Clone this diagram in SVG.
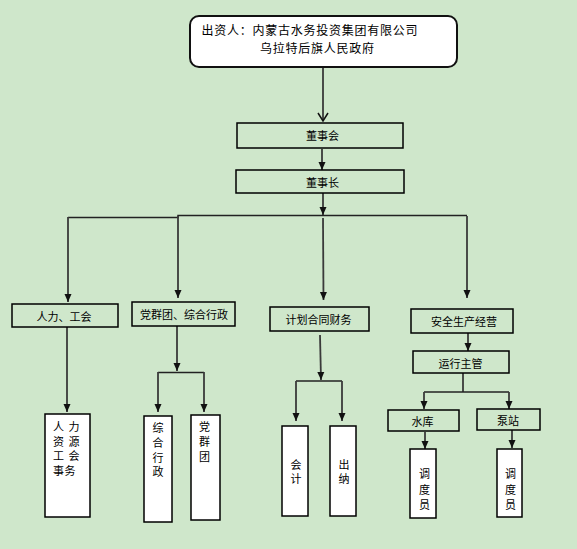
<svg xmlns="http://www.w3.org/2000/svg" width="577" height="549" viewBox="0 0 577 549">
<defs>
<style>
.bg{fill:#cfe7cb}
.box{fill:#ffffff;stroke:#000;stroke-width:1.5}
.hbox{fill:none;stroke:#000;stroke-width:1.5}
.t{font-family:"Noto Sans CJK SC","Noto Sans",sans-serif;font-size:11px;fill:#000;text-anchor:middle;dominant-baseline:central}
.top{font-family:"Noto Sans CJK SC","Noto Sans",sans-serif;font-size:12px;letter-spacing:0.75px;fill:#000}
.c{fill:none;stroke:#222;stroke-width:1.5}
.v{fill:none;stroke:#3a3a3a;stroke-width:1.8}
</style>
<marker id="ah" markerUnits="userSpaceOnUse" markerWidth="8" markerHeight="8" viewBox="0 0 8 8" refX="8" refY="4" orient="auto">
<path d="M0,0.5 L8,4 L0,7.5 Z" fill="#111"/>
</marker>
<marker id="av" markerUnits="userSpaceOnUse" markerWidth="10" markerHeight="12" viewBox="0 0 10 12" refX="9" refY="6" orient="auto">
<path d="M1,1 L9,6 L1,11" fill="none" stroke="#111" stroke-width="1.5"/>
</marker>
</defs>
<rect class="bg" x="0" y="0" width="577" height="549"/>
<g id="connectors">
<path class="v" d="M323,68 V121" marker-end="url(#av)"/>
<path class="v" d="M322,149 V170" marker-end="url(#ah)"/>
<path class="v" d="M323,193 V215" marker-end="url(#ah)"/>
<path class="c" d="M68,217.5 H178 V215.5 H467"/>
<path class="v" d="M68,217 V302" marker-end="url(#ah)"/>
<path class="v" d="M178,216 V298" marker-end="url(#ah)"/>
<path class="v" d="M323,218 L323.5,300" marker-end="url(#ah)"/>
<path class="v" d="M467,216 V298" marker-end="url(#ah)"/>
<path class="v" d="M468,333 V351" marker-end="url(#ah)"/>
<path class="v" d="M463,373 V392"/>
<path class="c" d="M424,392 H509"/>
<path class="v" d="M424,392 V409" marker-end="url(#ah)"/>
<path class="v" d="M509,392 V409" marker-end="url(#ah)"/>
<path class="v" d="M425,432 V449" marker-end="url(#ah)"/>
<path class="v" d="M512,430 V448" marker-end="url(#ah)"/>
<path class="v" d="M320,335 L321,380" marker-end="url(#ah)"/>
<path class="c" d="M296,381 H342"/>
<path class="v" d="M296,381 V421" marker-end="url(#ah)"/>
<path class="v" d="M342,381 V421" marker-end="url(#ah)"/>
<path class="v" d="M177,326 V371" marker-end="url(#ah)"/>
<path class="c" d="M158,372.5 H204"/>
<path class="v" d="M158,372 V412" marker-end="url(#ah)"/>
<path class="v" d="M204,372 V412" marker-end="url(#ah)"/>
<path class="v" d="M67,327 V412" marker-end="url(#ah)"/>
</g>
<g id="n-investor">
<rect x="190" y="16" width="267" height="51" rx="9" fill="#fff" stroke="#111" stroke-width="2"/>
<text class="top"><tspan x="201.5" y="35">出资人：内蒙古水务投资集团有限公司</tspan><tspan x="260" y="52.5">乌拉特后旗人民政府</tspan></text>
</g>
<g id="n-board">
<rect class="hbox" x="237" y="123" width="166" height="25"/>
<text class="t" x="322.5" y="135">董事会</text>
</g>
<g id="n-chairman">
<rect class="hbox" x="236" y="170" width="168" height="23"/>
<text class="t" x="322.5" y="182">董事长</text>
</g>
<g id="n-hr">
<rect class="hbox" x="12" y="304" width="106" height="23"/>
<text class="t" x="64" y="315.5">人力、工会</text>
</g>
<g id="n-party">
<rect class="hbox" x="132" y="302" width="103" height="24"/>
<text class="t" x="184" y="313.5" font-size="10.5">党群团、综合行政</text>
</g>
<g id="n-finance">
<rect class="hbox" x="270" y="307" width="99" height="24"/>
<text class="t" x="318.5" y="318.5">计划合同财务</text>
</g>
<g id="n-safety">
<rect class="hbox" x="411" y="309" width="102" height="24"/>
<text class="t" x="464" y="321">安全生产经营</text>
</g>
<g id="n-ops">
<rect class="hbox" x="413" y="351" width="96" height="22"/>
<text class="t" x="460.5" y="362.5">运行主管</text>
</g>
<g id="n-reservoir">
<rect class="hbox" x="388" y="410" width="71" height="21"/>
<text class="t" x="422.5" y="421">水库</text>
</g>
<g id="n-pump">
<rect class="hbox" x="477" y="409" width="63" height="21"/>
<text class="t" x="508" y="420">泵站</text>
</g>
<g id="n-disp1">
<rect class="box" x="410" y="449" width="26" height="69"/>
<text class="t"><tspan x="424.5" y="473">调</tspan><tspan x="424.5" y="488.5">度</tspan><tspan x="424.5" y="503.5">员</tspan></text>
</g>
<g id="n-disp2">
<rect class="box" x="497" y="449" width="25" height="68"/>
<text class="t"><tspan x="510.5" y="473">调</tspan><tspan x="510.5" y="488.5">度</tspan><tspan x="510.5" y="503.5">员</tspan></text>
</g>
<g id="n-accounting">
<rect class="box" x="282" y="426" width="26" height="90"/>
<text class="t"><tspan x="296" y="463.5">会</tspan><tspan x="296" y="478">计</tspan></text>
</g>
<g id="n-cashier">
<rect class="box" x="330" y="426" width="26" height="90"/>
<text class="t"><tspan x="344" y="463.5">出</tspan><tspan x="344" y="478">纳</tspan></text>
</g>
<g id="n-admin">
<rect class="box" x="144" y="416" width="28" height="106"/>
<text class="t"><tspan x="158" y="427">综</tspan><tspan x="158" y="441.5">合</tspan><tspan x="158" y="456.5">行</tspan><tspan x="158" y="471">政</tspan></text>
</g>
<g id="n-partygroup">
<rect class="box" x="191" y="415" width="29" height="105"/>
<text class="t"><tspan x="204.5" y="426">党</tspan><tspan x="204.5" y="441">群</tspan><tspan x="204.5" y="455.5">团</tspan></text>
</g>
<g id="n-hraffairs">
<rect class="box" x="45" y="414" width="45" height="103"/>
<text class="t"><tspan x="58.5" y="425.5">人</tspan><tspan x="74" y="425.5">力</tspan><tspan x="58.5" y="440.5">资</tspan><tspan x="74" y="440.5">源</tspan><tspan x="58.5" y="455">工</tspan><tspan x="74" y="455">会</tspan><tspan x="58.5" y="469.5">事</tspan><tspan x="70" y="469.5">务</tspan></text>
</g>
</svg>
